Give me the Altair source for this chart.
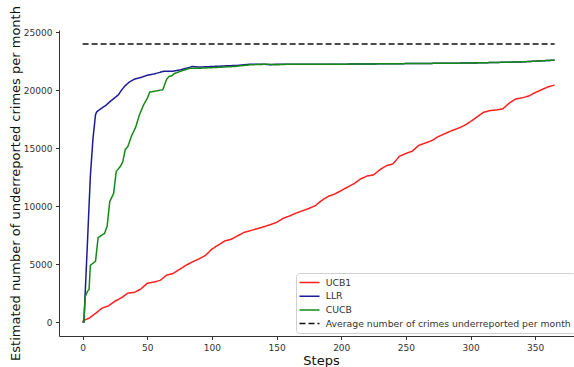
import altair as alt
import pandas as pd

# ---- data ----
ucb1_steps = [0, 1, 2, 5, 10, 15, 20, 25, 30, 35, 40, 45, 50, 55, 60, 65, 70, 75, 80, 85, 90, 95,
              100, 105, 110, 115, 120, 125, 130, 135, 140, 145, 150, 155, 160, 165, 170, 175, 180,
              185, 190, 195, 200, 205, 210, 215, 220, 225, 230, 235, 240, 245, 250, 255, 260, 265,
              270, 275, 280, 285, 290, 295, 300, 305, 310, 315, 320, 325, 330, 335, 340, 345, 350,
              355, 360, 365]
ucb1_vals = [0, 150, 200, 330, 750, 1200, 1400, 1800, 2100, 2500, 2560, 2850, 3350, 3450, 3600,
             4050, 4200, 4550, 4900, 5200, 5450, 5750, 6300, 6650, 7000, 7150, 7450, 7750, 7900,
             8050, 8220, 8400, 8600, 8950, 9150, 9400, 9600, 9800, 10050, 10500, 10850, 11050,
             11350, 11650, 11950, 12350, 12600, 12700, 13150, 13500, 13650, 14300, 14550, 14750,
             15250, 15450, 15650, 16000, 16250, 16500, 16700, 16950, 17300, 17700, 18100, 18250,
             18300, 18400, 18900, 19250, 19350, 19500, 19800, 20050, 20300, 20450]

llr_steps = [0, 1, 2, 4, 6, 8, 10, 11, 14, 18, 22, 26, 28, 30, 33, 36, 40, 45, 50, 55, 60, 63,
             70, 75, 80, 85, 90, 100, 110, 120, 130, 140, 145, 150, 160, 200, 250, 300, 340, 365]
llr_vals = [0, 0, 2500, 7500, 12600, 15800, 17900, 18150, 18400, 18700, 19100, 19450, 19650,
            20000, 20400, 20700, 20950, 21100, 21300, 21400, 21550, 21650, 21650, 21750, 21900,
            22050, 22000, 22050, 22100, 22150, 22250, 22250, 22200, 22250, 22250, 22250, 22300,
            22350, 22450, 22600]

cucb_steps = [0, 1, 2, 4, 5, 6, 10, 12, 17, 19, 21, 24, 26, 29, 31, 33, 35, 38, 41, 44, 47, 50,
              52, 55, 62, 65, 67, 69, 71, 76, 83, 90, 100, 117, 130, 143, 150, 160, 200, 250, 300,
              340, 365]
cucb_vals = [0, 0, 2200, 2700, 2800, 4900, 5250, 7300, 7650, 8300, 10400, 11100, 13000, 13400,
             13800, 14900, 15150, 16100, 16800, 17900, 18700, 19300, 19850, 19900, 20050, 20950,
             21200, 21250, 21450, 21650, 21900, 21900, 21950, 22050, 22200, 22250, 22200, 22250,
             22250, 22300, 22350, 22450, 22600]

avg_steps = [0, 365]
avg_vals = [24000, 24000]

series_names = ["UCB1", "LLR", "CUCB", "Average number of crimes underreported per month"]
series_colors = ["#ff1f1f", "#1c1c96", "#168a16", "#111111"]
series_dashes = [[1, 0], [1, 0], [1, 0], [6, 3]]

x_ticks = [0, 50, 100, 150, 200, 250, 300, 350]
y_ticks = [0, 5000, 10000, 15000, 20000, 25000]

rows = []
for name, steps, vals in zip(series_names,
                             [ucb1_steps, llr_steps, cucb_steps, avg_steps],
                             [ucb1_vals, llr_vals, cucb_vals, avg_vals]):
    for s, v in zip(steps, vals):
        rows.append({"series": name, "step": s, "value": v})
df = pd.DataFrame(rows)

FONT = "DejaVu Sans"

legend_props = dict(
    title=None, orient="none", legendX=237, legendY=243,
    symbolType="M-2,0H2", symbolSize=100, symbolStrokeWidth=1.5, symbolOffset=4,
    labelFont=FONT, labelFontSize=9.3, labelColor="#333333", labelOffset=10.2, labelLimit=400,
    fillColor="white", strokeColor="#d0d0d0", cornerRadius=3, padding=3.5, rowPadding=1.7,
)

chart = alt.Chart(df).mark_line(strokeWidth=1.5, clip=True).encode(
    x=alt.X("step:Q",
            scale=alt.Scale(domain=[-18.25, 380], nice=False, zero=False),
            axis=alt.Axis(values=x_ticks, title="Steps", titleX=262, titleY=28,
                          titleBaseline="alphabetic", titleAlign="center")),
    y=alt.Y("value:Q",
            scale=alt.Scale(domain=[-1200, 25200], nice=False, zero=False),
            axis=alt.Axis(values=y_ticks, format="d",
                          title="Estimated number of underreported crimes per month",
                          titleX=-40, titleY=153, titleBaseline="alphabetic", titleAlign="center")),
    color=alt.Color("series:N",
                    scale=alt.Scale(domain=series_names, range=series_colors),
                    legend=alt.Legend(**legend_props)),
    strokeDash=alt.StrokeDash("series:N",
                              scale=alt.Scale(domain=series_names, range=series_dashes),
                              legend=alt.Legend(**legend_props)),
).properties(
    width=515, height=306,
    autosize=alt.AutoSizeParams(type="none"),
    padding={"left": 59, "top": 30, "right": 0, "bottom": 31},
).configure_view(
    stroke=None
).configure_axis(
    grid=False,
    labelFont=FONT, labelFontSize=9, labelColor="#333333",
    titleFont=FONT, titleFontSize=13, titleFontWeight="normal", titleColor="#111111",
    domainColor="#333333", domainWidth=1, tickColor="#333333", tickSize=3.5, tickWidth=1,
    labelPadding=3.5,
)

chart.save("out.html", embed_options={"renderer": "svg", "actions": False})
